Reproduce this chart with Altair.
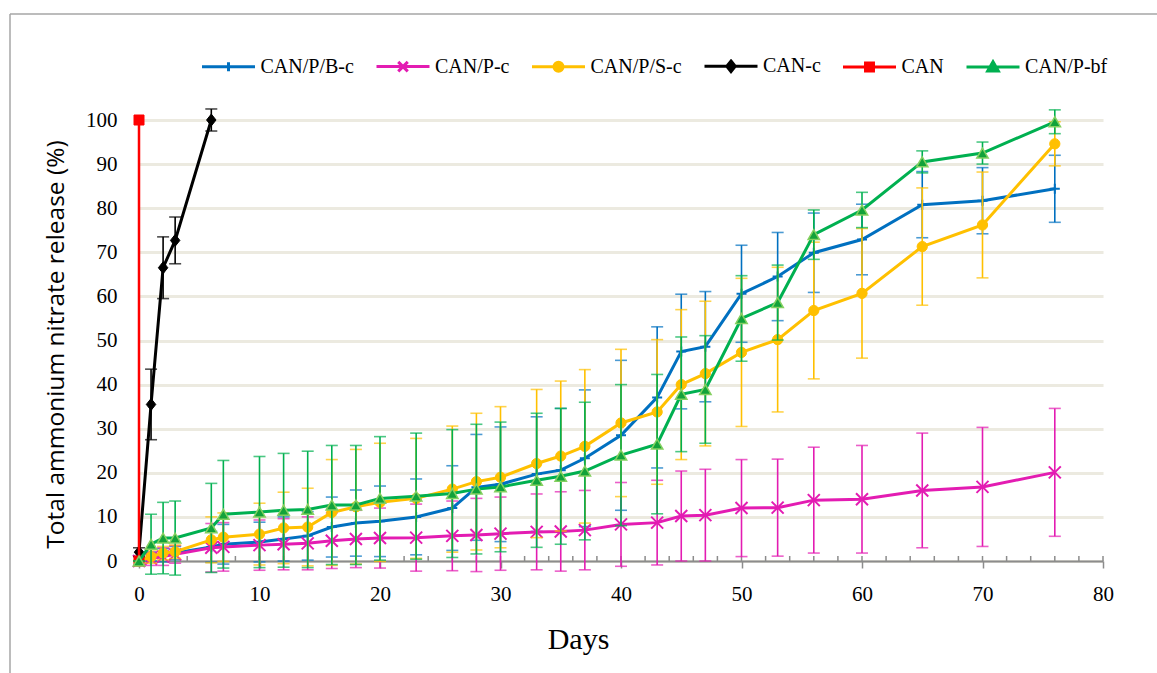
import altair as alt
import pandas as pd

# ---------------- data ----------------
days = [0, 1, 2, 3, 6, 7, 10, 12, 14, 16, 18, 20, 23, 26, 28, 30, 33, 35, 37,
        40, 43, 45, 47, 50, 53, 56, 60, 65, 70, 76]

b_val = [0, 1.0, 1.3, 1.8, 3.2, 3.8, 4.3, 5.0, 5.7, 7.7, 8.6, 9.0, 10.0, 12.0, 16.7,
         17.4, 19.7, 20.6, 23.3, 28.5, 37.1, 47.5, 48.6, 60.6, 64.5, 69.9, 72.9,
         80.8, 81.7, 84.4]
b_sd = [0, 1.0, 1.5, 1.5, 3.5, 4.5, 4.5, 5.0, 5.5, 6.8, 7.5, 8.0, 8.6, 9.6, 12.0,
        13.0, 13.0, 14.0, 15.5, 17.0, 16.0, 13.0, 12.5, 11.0, 10.0, 9.0, 8.0,
        7.5, 7.5, 7.6]

p_val = [0, 0.5, 1.0, 1.5, 3.0, 3.2, 3.6, 3.8, 4.0, 4.6, 5.0, 5.2, 5.3, 5.7, 5.9,
         6.2, 6.6, 6.7, 7.0, 8.3, 8.7, 10.2, 10.4, 12.0, 12.1, 13.8, 14.0,
         16.0, 16.8, 20.1]
p_sd = [0, 1.5, 2.0, 2.0, 5.5, 5.5, 5.7, 5.8, 6.0, 6.3, 6.5, 6.8, 7.6, 7.9, 8.3,
        8.3, 8.6, 9.0, 9.0, 9.5, 9.6, 10.2, 10.4, 11.0, 11.0, 12.0, 12.2,
        13.0, 13.5, 14.5]

y_val = [0, 1.0, 1.8, 2.1, 4.8, 5.4, 6.1, 7.5, 7.7, 11.0, 12.3, 13.3, 14.2, 16.3,
         18.0, 19.0, 22.1, 23.8, 26.0, 31.3, 33.8, 40.0, 42.5, 47.3, 50.2, 56.8,
         60.7, 71.3, 76.2, 94.6]
y_sd = [0, 1.5, 1.5, 1.5, 5.2, 5.5, 7.0, 8.1, 8.8, 12.0, 13.0, 13.4, 13.6, 14.3,
        15.5, 16.0, 16.8, 17.0, 17.4, 16.7, 16.4, 17.0, 16.4, 16.8, 16.4, 15.5,
        14.7, 13.3, 12.0, 5.0]

g_val = [0, 3.8, 5.2, 5.2, 7.5, 10.6, 11.1, 11.5, 11.7, 12.7, 12.7, 14.2, 14.7,
         15.3, 16.3, 16.8, 18.3, 19.2, 20.4, 24.0, 26.5, 37.8, 38.9, 55.0, 58.6,
         74.0, 79.6, 90.5, 92.5, 99.6]
g_sd = [0, 6.8, 8.1, 8.4, 10.1, 12.2, 12.6, 12.9, 13.2, 13.5, 13.5, 14.0, 14.3,
        14.5, 14.7, 14.7, 15.2, 15.4, 15.6, 16.0, 15.8, 13.0, 12.2, 9.7, 8.5,
        5.6, 4.0, 2.5, 2.5, 2.7]

k_days = [0, 1, 2, 3, 6]
k_val = [2.0, 35.5, 66.5, 72.7, 100.0]
k_sd = [1.0, 8.0, 7.0, 5.3, 2.5]

r_days = [0, 0]
r_val = [0, 100]

names = ["CAN/P/B-c", "CAN/P-c", "CAN/P/S-c", "CAN-c", "CAN", "CAN/P-bf"]
colors = ["#0070C0", "#E31CB2", "#FFC000", "#000000", "#FF0000", "#00B050"]

x_ticks = [0, 10, 20, 30, 40, 50, 60, 70, 80]
x_minor = list(range(0, 81, 2))
y_ticks = [0, 10, 20, 30, 40, 50, 60, 70, 80, 90, 100]

series = [
    (names[0], days, b_val, b_sd),
    (names[1], days, p_val, p_sd),
    (names[2], days, y_val, y_sd),
    (names[3], k_days, k_val, k_sd),
    (names[4], r_days, r_val, None),
    (names[5], days, g_val, g_sd),
]

# ---------------- styling ----------------
W, H = 964, 441
PAD = {"left": 139, "top": 120, "right": 54, "bottom": 112}
SERIF = "Liberation Serif"

marker_style = {
    names[0]: dict(shape="M-1,0H1M0,-1V1", size=100, filled=False, stroke=colors[0], strokeWidth=2),
    names[1]: dict(shape="M-1.2,-1.2L1.2,1.2M-1.2,1.2L1.2,-1.2", size=100, filled=False,
                   stroke=colors[1], strokeWidth=2),
    names[2]: dict(shape="circle", size=105, filled=True, fill=colors[2], stroke=colors[2], strokeWidth=1),
    names[3]: dict(shape="M0,-1.25L1,0L0,1.25L-1,0Z", size=90, filled=True, fill=colors[3],
                   stroke=colors[3], strokeWidth=1),
    names[4]: dict(shape="square", size=100, filled=True, fill=colors[4], stroke=colors[4], strokeWidth=1),
    names[5]: dict(shape="triangle-up", size=130, filled=True, fill="#12A23A", stroke="#84D060",
                   strokeWidth=1.5),
}

legend_paths = [
    "M-1,0H1M0,-0.17V0.17",
    "M-1,0H1M-0.18,-0.18L0.18,0.18M-0.18,0.18L0.18,-0.18",
    "M-1,0H1M0.17,0A0.17,0.17,0,1,1,-0.17,0A0.17,0.17,0,1,1,0.17,0Z",
    "M-1,0H1M0,-0.2L0.16,0L0,0.2L-0.16,0Z",
    "M-1,0H1M-0.15,-0.15H0.15V0.15H-0.15Z",
    "M-1,0H1M0,-0.19L0.2,0.16H-0.2Z",
]

xscale = alt.Scale(domain=[0, 80], nice=False, zero=False)
yscale = alt.Scale(domain=[0, 100], nice=False)

x_axis = alt.Axis(values=x_ticks, grid=False, domainColor="#8C8C8C", domainWidth=2,
                  tickColor="#8C8C8C", tickWidth=1.5, tickSize=7, labelPadding=15,
                  labelFlush=False,
                  labelFont=SERIF, labelFontSize=21, labelColor="#000000",
                  titleFont=SERIF, titleFontSize=30, titleFontWeight="normal",
                  titleColor="#000000", titlePadding=20, titleX=439)
y_axis = alt.Axis(values=y_ticks, grid=True, gridColor="#ECEAE0", gridWidth=3,
                  domain=False, ticks=False, tickSize=0, labelPadding=22,
                  labelFlush=False,
                  labelFont=SERIF, labelFontSize=21, labelColor="#000000",
                  titleFont="Open Sans", titleFontSize=24.5, titleFontWeight="normal",
                  titleColor="#000000", titlePadding=17, titleY=224)

X_TITLE = "Days"
Y_TITLE = "Total ammonium nitrate release (%)"


def xenc(field="day"):
    return alt.X(f"{field}:Q", scale=xscale, axis=x_axis, title=X_TITLE)


def yenc(field):
    return alt.Y(f"{field}:Q", scale=yscale, axis=y_axis, title=Y_TITLE)


layers = []
all_rows = []
for (name, ds, vs, sds), col in zip(series, colors):
    rows = []
    for i, (d, v) in enumerate(zip(ds, vs)):
        r = {"series": name, "day": d, "value": v, "ord": i}
        if sds is not None:
            r["lo"] = v - sds[i]
            r["hi"] = v + sds[i]
        rows.append(r)
    all_rows.extend(rows)
    df = pd.DataFrame(rows)
    base = alt.Chart(df)
    if sds is not None:
        layers.append(
            base.mark_errorbar(ticks=True, size=12, thickness=1.6, color=col).encode(
                x=xenc(), y=yenc("lo"), y2="hi:Q")
        )
    layers.append(
        base.mark_line(color=col, strokeWidth=3 if name != "CAN" else 2.5).encode(
            x=xenc(), y=yenc("value"), order="ord:Q")
    )
    ms = dict(marker_style[name])
    layers.append(base.mark_point(opacity=1, **ms).encode(x=xenc(), y=yenc("value")))

# inside minor ticks on the x axis
ticks_df = pd.DataFrame({"day": x_minor})
minor_layer = alt.Chart(ticks_df).mark_rule(color="#8C8C8C", strokeWidth=1.5).encode(
    x=xenc(), y=alt.value(H - 5), y2=alt.value(H))

# legend (invisible marks that only carry the legend)
df_all = pd.DataFrame(all_rows)
leg_props = dict(orient="none", legendX=61.5, legendY=-82, direction="horizontal",
                 title=None, symbolSize=2809, symbolStrokeWidth=3, symbolOpacity=1,
                 labelFont=SERIF, labelFontSize=20, labelColor="#000000",
                 labelOffset=4, columnPadding=15.5, padding=0)
legend_layer = alt.Chart(df_all).mark_point(opacity=0, size=2809, filled=True).encode(
    x=xenc(), y=yenc("value"),
    fill=alt.Fill("series:N", scale=alt.Scale(domain=names, range=colors),
                  legend=alt.Legend(**leg_props)),
    stroke=alt.Stroke("series:N", scale=alt.Scale(domain=names, range=colors),
                      legend=alt.Legend(**leg_props)),
    shape=alt.Shape("series:N", scale=alt.Scale(domain=names, range=legend_paths),
                    legend=alt.Legend(**leg_props)),
)

# outer frame (partially visible in the reference)
frame_df = pd.DataFrame({"k": [0]})
frame_v = alt.Chart(frame_df).mark_rule(color="#A6A6A6", strokeWidth=1.5).encode(
    x=alt.value(-129), y=alt.value(-106), y2=alt.value(H + 120))
frame_h = alt.Chart(frame_df).mark_rule(color="#A6A6A6", strokeWidth=1.5).encode(
    x=alt.value(-129), x2=alt.value(1100), y=alt.value(-106))

chart = alt.layer(minor_layer, *layers, legend_layer, frame_v, frame_h).properties(
    width=W, height=H,
    autosize=alt.AutoSizeParams(type="none"),
    padding=PAD,
    background="#FFFFFF",
).configure_view(stroke=None)

chart.save("out.html", embed_options={"renderer": "svg", "actions": False})
